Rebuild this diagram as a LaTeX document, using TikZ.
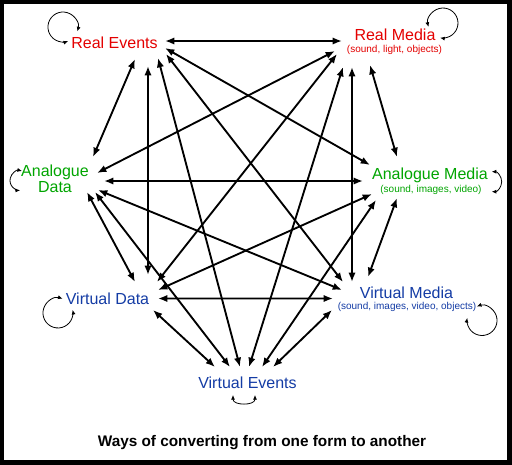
\documentclass[tikz,border=0pt]{standalone}
\usepackage{fontspec}
\setmainfont{Liberation Sans}
\usetikzlibrary{arrows.meta}
\definecolor{formred}{RGB}{228,0,0}
\definecolor{formgreen}{RGB}{0,165,0}
\definecolor{formblue}{RGB}{20,60,165}

\begin{document}
\begin{tikzpicture}[x=0.75pt,y=0.75pt,
    formtitle/.style={inner sep=0pt,anchor=base,font=\fontsize{12}{12}\selectfont},
    formsub/.style={inner sep=0pt,anchor=base,font=\fontsize{7.5}{8}\selectfont},
    conv/.style={line width=1.4pt,{Latex[length=7pt,width=5.5pt]}-{Latex[length=7pt,width=5.5pt]}},
    selfloop/.style={line width=0.6pt,{Latex[length=3.5pt,width=3pt]}-{Latex[length=3.5pt,width=3pt]}}]
    % frame
    \fill[black] (0,0) rectangle (512,-465);
    \fill[white] (4,-4) rectangle (507,-460);
    % the seven forms
    \node[formtitle,formred] (re) at (114.5,-48) {Real Events};
    \node[formtitle,formred] (rm) at (395,-40) {Real Media};
    \node[formsub,formred] (rmsub) at ([shift={(-0.5,-12)}]rm.base) {(sound, light, objects)};
    \node[formtitle,formgreen,anchor=center,align=center,font=\fontsize{12}{11.8}\selectfont] (ad) at (55,-179) {Analogue\\Data};
    \node[formtitle,formgreen] (am) at (430,-179.3) {Analogue Media};
    \node[formsub,formgreen] (amsub) at ([shift={(1,-13)}]am.base) {(sound, images, video)};
    \node[formtitle,formblue] (vd) at (107.5,-304.3) {Virtual Data};
    \node[formtitle,formblue] (vm) at (406.5,-298.3) {Virtual Media};
    \node[formsub,formblue] (vmsub) at ([shift={(0.5,-11)}]vm.base) {(sound, images, video, objects)};
    \node[formtitle,formblue] (ve) at (247.5,-388.3) {Virtual Events};
    \node[anchor=base,inner sep=0pt,font=\fontsize{11.5}{12}\selectfont\bfseries] (caption) at (262,-446.7) {Ways of converting from one form to another};
    % conversions
    \draw[conv] ([shift={(50.5,7)}]re.base) -- ([shift={(-53,-1)}]rm.base);
    \draw[conv] ([shift={(20.5,-11)}]re.base) -- ([shift={(38,22)}]ad.center);
    \draw[conv] ([shift={(33.5,-18)}]re.base) -- ([shift={(40.5,29.3)}]vd.base);
    \draw[conv] ([shift={(43.5,-10)}]re.base) -- ([shift={(-7.5,21.3)}]ve.base);
    \draw[conv] ([shift={(51.5,-6)}]re.base) -- ([shift={(-63.5,16.3)}]vm.base);
    \draw[conv] ([shift={(50.5,0)}]re.base) -- ([shift={(-60,14.3)}]am.base);
    \draw[conv] ([shift={(-60,-11)}]rm.base) -- ([shift={(42,6)}]ad.center);
    \draw[conv] ([shift={(-58,-14)}]rm.base) -- ([shift={(49.5,22.3)}]vd.base);
    \draw[conv] ([shift={(-52,-27)}]rm.base) -- ([shift={(1.5,21.3)}]ve.base);
    \draw[conv] ([shift={(-25,-25)}]rm.base) -- ([shift={(-33,22.3)}]am.base);
    \draw[conv] ([shift={(-43,-27)}]rm.base) -- ([shift={(-54.5,16.3)}]vm.base);
    \draw[conv] ([shift={(49,-2)}]ad.center) -- ([shift={(-67,-1.7)}]am.base);
    \draw[conv] ([shift={(43,-11)}]ad.center) -- ([shift={(-64.5,8.3)}]vm.base);
    \draw[conv] ([shift={(32,-13)}]ad.center) -- ([shift={(27.5,22.3)}]vd.base);
    \draw[conv] ([shift={(40,-13)}]ad.center) -- ([shift={(-17.5,21.3)}]ve.base);
    \draw[conv] ([shift={(-58,-14.7)}]am.base) -- ([shift={(50.5,14.3)}]vd.base);
    \draw[conv] ([shift={(-54,-20.7)}]am.base) -- ([shift={(14.5,21.3)}]ve.base);
    \draw[conv] ([shift={(-33,-18.7)}]am.base) -- ([shift={(-38.5,21.3)}]vm.base);
    \draw[conv] ([shift={(50.5,5.8)}]vd.base) -- ([shift={(-73.5,-0.2)}]vm.base);
    \draw[conv] ([shift={(45.5,-5.7)}]vd.base) -- ([shift={(-32.5,21.3)}]ve.base);
    \draw[conv] ([shift={(-74.5,-11.7)}]vm.base) -- ([shift={(25.5,21.3)}]ve.base);
    % each form into itself
    \draw[selfloop] ([shift={(-37.2,16.6)}]re.base) arc[start angle=-17,end angle=290,radius=15];
    \draw[selfloop] ([shift={(33.5,13.1)}]rm.base) arc[start angle=195,end angle=-101,radius=15];
    \draw[selfloop] ([shift={(-33,8.05)}]ad.center) arc[start angle=77,end angle=272,radius=9.8];
    \draw[selfloop] ([shift={(61.7,7.6)}]am.base) arc[start angle=90,end angle=-90,radius=10];
    \draw[selfloop] ([shift={(-44.9,5.6)}]vd.base) arc[start angle=72,end angle=372,radius=15];
    \draw[selfloop] ([shift={(70.4,-8.1)}]vm.base) arc[start angle=110,end angle=-190,radius=15];
    \draw[selfloop] ([shift={(-14.5,-6.7)}]ve.base) to[out=-90,in=-90,looseness=1.25] ([shift={(7.5,-6.7)}]ve.base);
\end{tikzpicture}
\end{document}
